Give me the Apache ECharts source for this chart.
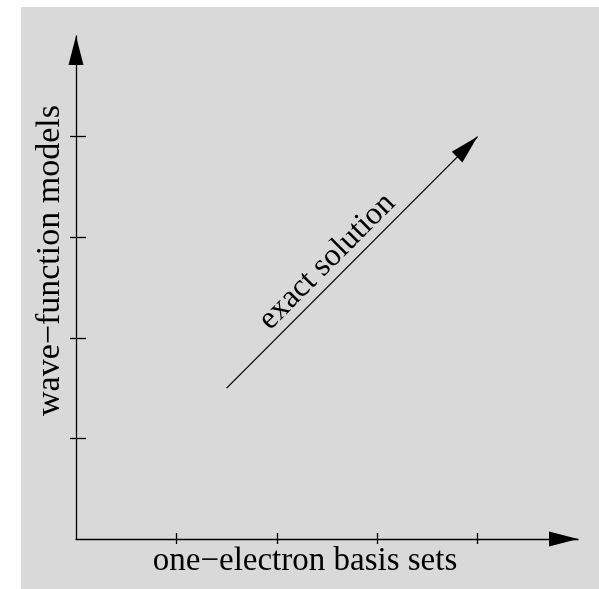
<!DOCTYPE html>
<html>
<head>
<meta charset="utf-8">
<script src="https://cdn.jsdelivr.net/npm/echarts@6/dist/echarts.min.js"></script>
<style>
html,body{margin:0;padding:0;background:#fff;}
#c{position:absolute;left:21px;top:7px;width:578px;height:582px;}
</style>
</head>
<body>
<div id="c"></div>
<script>
// ---- data ----
const axisRange = [0, 5];
const xTickValues = [1, 2, 3, 4];
const yTickValues = [1, 2, 3, 4];
const arrowX = [1.5, 4];
const arrowY = [1.5, 4];
const xTitle = 'one\u2212electron basis sets';
const yTitle = 'wave\u2212function models';
const arrowText = 'exact solution';
const arrowTextAt = 2.63; // position along the arrow (axis units)

const FONT = '"Liberation Serif", "Times New Roman", serif';
const chart = echarts.init(document.getElementById('c'), null, {renderer: 'canvas'});

const axisLineCommon = {
  show: true,
  lineStyle: {color: '#000', width: 1.3},
  symbol: ['none', 'triangle'],
  symbolSize: [15, 29],
  symbolOffset: [0, -14.5]
};

const option = {
  backgroundColor: '#d9d9d9',
  animation: false,
  grid: {left: 55, top: 29, right: 21, bottom: 50, containLabel: false},
  xAxis: [
    {
      type: 'value', min: axisRange[0], max: axisRange[1], interval: 1,
      position: 'bottom',
      name: xTitle, nameLocation: 'middle', nameGap: 6,
      nameTextStyle: {fontFamily: FONT, fontSize: 33, color: '#000', verticalAlign: 'top', padding: [0, 44, 0, 0]},
      axisLine: axisLineCommon,
      axisTick: {show: true, inside: false, length: 5, customValues: xTickValues, lineStyle: {color: '#000', width: 1.3}},
      axisLabel: {show: false},
      splitLine: {show: false}
    },
    {
      type: 'value', min: axisRange[0], max: axisRange[1], interval: 1,
      position: 'bottom',
      axisLine: {show: false},
      axisTick: {show: true, inside: true, length: 6, customValues: xTickValues, lineStyle: {color: '#000', width: 1.3}},
      axisLabel: {show: false},
      splitLine: {show: false}
    }
  ],
  yAxis: [
    {
      type: 'value', min: axisRange[0], max: axisRange[1], interval: 1,
      position: 'left',
      name: yTitle, nameLocation: 'middle', nameGap: 9,
      nameTextStyle: {fontFamily: FONT, fontSize: 34, color: '#000', padding: [0, 0, 0, 54]},
      axisLine: axisLineCommon,
      axisTick: {show: true, inside: false, length: 6, customValues: yTickValues, lineStyle: {color: '#000', width: 1.3}},
      axisLabel: {show: false},
      splitLine: {show: false}
    },
    {
      type: 'value', min: axisRange[0], max: axisRange[1], interval: 1,
      position: 'left',
      axisLine: {show: false},
      axisTick: {show: true, inside: true, length: 10, customValues: yTickValues, lineStyle: {color: '#000', width: 1.3}},
      axisLabel: {show: false},
      splitLine: {show: false}
    }
  ],
  series: [
    {
      type: 'line',
      xAxisIndex: 0, yAxisIndex: 0,
      silent: true,
      lineStyle: {color: '#000', width: 1.3},
      itemStyle: {color: '#000'},
      showSymbol: true,
      data: [
        {value: [arrowX[0], arrowY[0]], symbol: 'none'},
        {value: [arrowX[1], arrowY[1]], symbol: 'triangle', symbolSize: [15, 29], symbolRotate: -45,
         symbolOffset: [-10.25, 10.25]}
      ]
    }
  ]
};
chart.setOption(option);

const p = chart.convertToPixel({gridIndex: 0}, [arrowTextAt, arrowTextAt]);
chart.setOption({
  graphic: [{
    type: 'text',
    x: p[0] - 12.9, y: p[1] - 12.8,
    rotation: Math.PI / 4,
    style: {text: arrowText, fontFamily: FONT, fontSize: 32, fill: '#000', align: 'center', verticalAlign: 'middle'},
    silent: true
  }]
});
</script>
</body>
</html>
